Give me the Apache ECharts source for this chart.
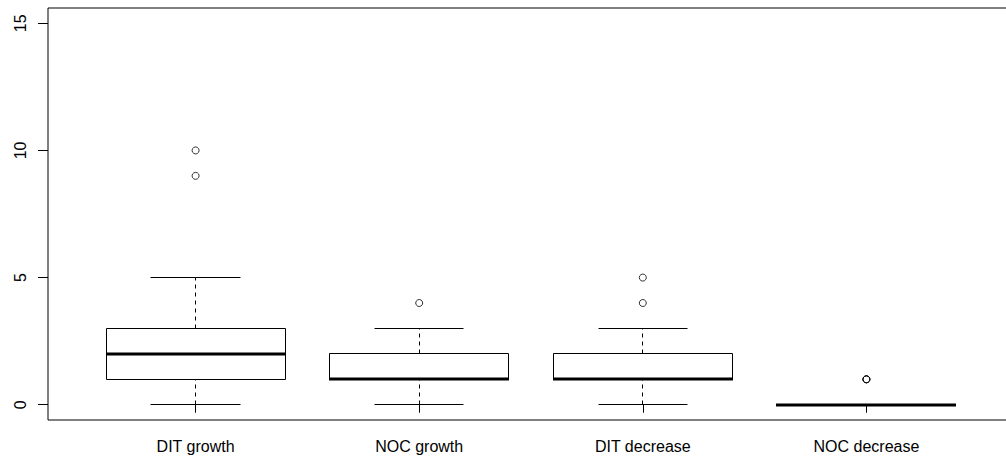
<!DOCTYPE html>
<html>
<head>
<meta charset="utf-8">
<script src="https://cdn.jsdelivr.net/npm/echarts@6/dist/echarts.min.js"></script>
<style>
  html, body { margin: 0; padding: 0; background: #fff; }
  #chart { width: 1006px; height: 462px; }
</style>
</head>
<body>
<div id="chart"></div>
<script>
// Groups shown along the x axis
const categories = ['DIT growth', 'NOC growth', 'DIT decrease', 'NOC decrease'];
// Five-number summaries: [lower whisker, Q1, median, Q3, upper whisker]
const boxStats = [
  [0, 1, 2, 3, 5],
  [0, 1, 1, 2, 3],
  [0, 1, 1, 2, 3],
  [0, 0, 0, 0, 0]
];
// Points beyond the whiskers
const outliers = [
  [9, 10],
  [4],
  [4, 5],
  [1, 1, 1]
];
// Y axis tick values
const yTicks = [0, 5, 10, 15];

const FONT = '"Liberation Sans", Arial, Helvetica, sans-serif';
const BOX_HALF = 0.4;   // half of the box width, in x units
const CAP_HALF = 0.2;   // half of the whisker cap width

const boxData = boxStats.map((s, i) => [i + 1].concat(s));
const outlierData = [];
outliers.forEach((list, i) => list.forEach(v => outlierData.push([i + 1, v])));

const crisp = v => Math.round(v - 0.5) + 0.5;

function renderBox(params, api) {
  const x = api.value(0);
  const lo = api.value(1), q1 = api.value(2), med = api.value(3), q3 = api.value(4), hi = api.value(5);
  const cx = crisp(api.coord([x, 0])[0]);
  const left = crisp(api.coord([x - BOX_HALF, 0])[0]);
  const right = crisp(api.coord([x + BOX_HALF, 0])[0]);
  const capL = crisp(api.coord([x - CAP_HALF, 0])[0]);
  const capR = crisp(api.coord([x + CAP_HALF, 0])[0]);
  const y = v => crisp(api.coord([x, v])[1]);
  const medY = Math.round(api.coord([x, med])[1]);
  const line = { stroke: '#000', lineWidth: 1 };
  const dashed = { stroke: '#000', lineWidth: 1, lineDash: [4, 4] };
  const children = [
    { type: 'line', shape: { x1: cx, y1: y(lo), x2: cx, y2: y(q1) }, style: dashed },
    { type: 'line', shape: { x1: cx, y1: y(q3), x2: cx, y2: y(hi) }, style: dashed },
    { type: 'line', shape: { x1: capL, y1: y(lo), x2: capR, y2: y(lo) }, style: line },
    { type: 'line', shape: { x1: capL, y1: y(hi), x2: capR, y2: y(hi) }, style: line },
    { type: 'rect', shape: { x: left, y: y(q3), width: right - left, height: y(q1) - y(q3) },
      style: { fill: '#fff', stroke: '#000', lineWidth: 1 } },
    { type: 'line', shape: { x1: left - 0.5, y1: medY, x2: right + 0.5, y2: medY },
      style: { stroke: '#000', lineWidth: 3 } }
  ];
  return { type: 'group', children: children };
}

const chart = echarts.init(document.getElementById('chart'), null, { renderer: 'svg' });
chart.setOption({
  animation: false,
  backgroundColor: '#fff',
  grid: {
    left: 48, top: 8, width: 966, height: 412,
    outerBoundsMode: 'none',
    containLabel: false,
    show: true, borderColor: '#000', borderWidth: 1, backgroundColor: 'transparent'
  },
  xAxis: {
    type: 'value',
    min: 0.34, max: 4.66,
    splitLine: { show: false },
    axisLine: { show: false },
    axisTick: { show: true, length: 8, customValues: [1, 2, 3, 4], lineStyle: { color: '#000' } },
    axisLabel: {
      customValues: [1, 2, 3, 4],
      formatter: v => categories[Math.round(v) - 1] || '',
      margin: 18, fontFamily: FONT, fontSize: 16, color: '#000'
    }
  },
  yAxis: {
    type: 'value',
    min: -0.6, max: 15.6,
    splitLine: { show: false },
    axisLine: { show: false },
    axisTick: { show: true, length: 10, customValues: yTicks, lineStyle: { color: '#000' } },
    axisLabel: {
      customValues: yTicks,
      rotate: 90,
      margin: 20, fontFamily: FONT, fontSize: 16, color: '#000'
    }
  },
  series: [
    {
      type: 'custom',
      renderItem: renderBox,
      encode: { x: 0, y: [1, 2, 3, 4, 5] },
      data: boxData,
      clip: false,
      silent: true
    },
    {
      type: 'scatter',
      data: outlierData,
      symbol: 'circle',
      symbolSize: 7,
      itemStyle: { color: 'rgba(255,255,255,0)', borderColor: '#000', borderWidth: 1 },
      silent: true
    }
  ]
});
</script>
</body>
</html>
